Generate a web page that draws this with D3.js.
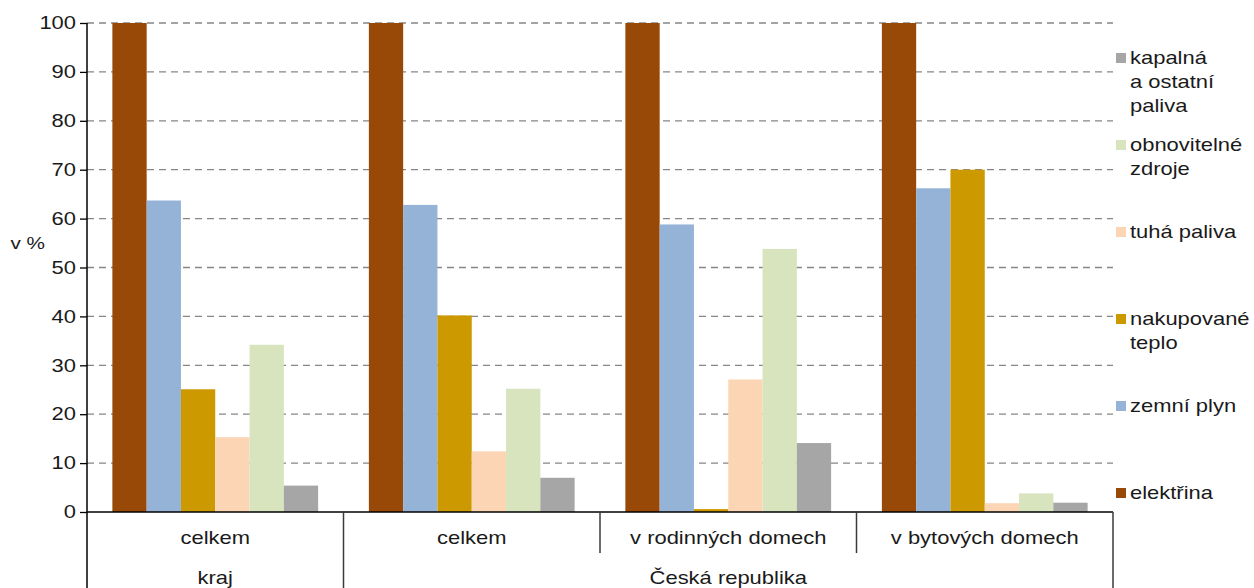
<!DOCTYPE html>
<html>
<head>
<meta charset="utf-8">
<script src="https://cdn.jsdelivr.net/npm/d3@7"></script>
<style>
  html, body { margin: 0; padding: 0; background: #fff; }
  svg { display: block; }
  text { font-family: "Liberation Sans", Arial, sans-serif; fill: #1a1a1a; }
</style>
</head>
<body>
<svg id="chart" width="1254" height="588"></svg>
<script>
// ---- data ----
const categories = ["celkem", "celkem", "v rodinných domech", "v bytových domech"];
const groupLabels = ["kraj", "Česká republika"];
const groupSpans = [1, 3];
const seriesNames = ["elektřina", "zemní plyn", "nakupované teplo", "tuhá paliva", "obnovitelné zdroje", "kapalná a ostatní paliva"];
const legendLines = [["elektřina"], ["zemní plyn"], ["nakupované", "teplo"], ["tuhá paliva"], ["obnovitelné", "zdroje"], ["kapalná", "a ostatní", "paliva"]];
const seriesColors = ["#984807", "#95b3d7", "#cc9900", "#fcd5b5", "#d7e4bd", "#a6a6a6"];
const elektrina   = [100, 100, 100, 100];
const zemniPlyn   = [63.7, 62.8, 58.8, 66.2];
const nakupTeplo  = [25.1, 40.2, 0.6, 70.0];
const tuhaPaliva  = [15.3, 12.4, 27.1, 1.8];
const obnovitelne = [34.2, 25.2, 53.8, 3.8];
const kapalna     = [5.4, 7.0, 14.1, 1.9];
const seriesValues = [elektrina, zemniPlyn, nakupTeplo, tuhaPaliva, obnovitelne, kapalna];
const yTicks = [0, 10, 20, 30, 40, 50, 60, 70, 80, 90, 100];
const yLabel = "v %";

// ---- layout ----
const L = 87, R = 1113, T = 23, B = 512;
const SX = 1.22; // horizontal stretch of text
const svg = d3.select("#chart");

const x0 = d3.scaleBand().domain(d3.range(categories.length)).range([L, R]).paddingInner(0).paddingOuter(0);
const x1 = d3.scaleBand().domain(d3.range(seriesNames.length)).range([0, x0.bandwidth()]).paddingInner(0).paddingOuter(0.74);
const y = d3.scaleLinear().domain([0, 100]).range([B, T]);

function stext(g, x, yy, str, anchor, size) {
  return g.append("text")
    .attr("transform", `translate(${x},${yy}) scale(${SX},1)`)
    .attr("text-anchor", anchor)
    .attr("dominant-baseline", "central")
    .style("font-size", size + "px")
    .text(str);
}

// gridlines
svg.append("g").selectAll("line").data(yTicks.filter(d => d > 0)).join("line")
  .attr("x1", L).attr("x2", R)
  .attr("y1", d => y(d)).attr("y2", d => y(d))
  .attr("stroke", "#868686").attr("stroke-width", 1.3).attr("stroke-dasharray", "7,5");

// bars
const bars = svg.append("g");
seriesValues.forEach((vals, si) => {
  bars.append("g").selectAll("rect").data(vals).join("rect")
    .attr("x", (d, i) => x0(i) + x1(si))
    .attr("width", x1.bandwidth())
    .attr("y", d => y(d))
    .attr("height", d => y(0) - y(d))
    .attr("fill", seriesColors[si]);
});

// y axis
const yAxis = svg.append("g").attr("transform", `translate(${L},0)`)
  .call(d3.axisLeft(y).tickValues(yTicks).tickSize(7).tickFormat(d => d));
yAxis.select(".domain").remove();
yAxis.selectAll(".tick line").attr("stroke", "#000").attr("stroke-width", 1.3);
yAxis.selectAll(".tick text").remove();
const tickG = svg.append("g");
yTicks.forEach(t => stext(tickG, 76, y(t), String(t), "end", 18));
svg.append("line").attr("x1", L).attr("x2", L).attr("y1", T).attr("y2", 588)
  .attr("stroke", "#000").attr("stroke-width", 1.5);
// zero baseline
svg.append("line").attr("x1", L).attr("x2", R).attr("y1", y(0)).attr("y2", y(0))
  .attr("stroke", "#000").attr("stroke-width", 1.5);

stext(svg, 45, 243, yLabel, "end", 17);

// category axis (multi-level)
const catG = svg.append("g");
let idx = 0;
groupSpans.forEach((span, gi) => {
  const xs = x0(idx);
  const xe = x0(idx + span - 1) + x0.bandwidth();
  catG.append("line").attr("x1", xe).attr("x2", xe).attr("y1", B).attr("y2", 588)
    .attr("stroke", "#3a3a3a").attr("stroke-width", 1.5);
  for (let k = idx; k < idx + span - 1; k++) {
    const xb = x0(k) + x0.bandwidth();
    catG.append("line").attr("x1", xb).attr("x2", xb).attr("y1", B).attr("y2", 553)
      .attr("stroke", "#3a3a3a").attr("stroke-width", 1.5);
  }
  stext(catG, (xs + xe) / 2, 578, groupLabels[gi], "middle", 18);
  idx += span;
});
categories.forEach((c, i) => {
  stext(catG, x0(i) + x0.bandwidth() / 2, 538, c, "middle", 18);
});

// legend (reverse order, top = last series)
const lg = svg.append("g");
const order = d3.range(seriesNames.length).reverse();
order.forEach((si, k) => {
  const cy = 58 + k * 87;
  lg.append("rect").attr("x", 1116).attr("y", cy - 5).attr("width", 10).attr("height", 10)
    .attr("fill", seriesColors[si]);
  legendLines[si].forEach((ln, li) => {
    stext(lg, 1130, cy + li * 24, ln, "start", 18);
  });
});
</script>
</body>
</html>
